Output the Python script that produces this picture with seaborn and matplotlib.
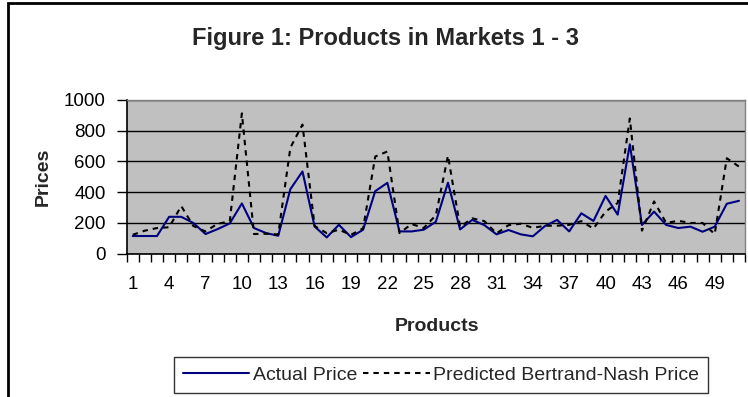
import numpy as np
import pandas as pd
import seaborn as sns
import matplotlib
matplotlib.use("Agg")
import matplotlib.pyplot as plt
from matplotlib.lines import Line2D
from matplotlib.patches import Rectangle

products = list(range(1, 52))
actual_price = [115, 115, 115, 240, 240, 200, 128, 160, 197, 327,
                167, 134, 117, 420, 535, 177, 106, 188, 108, 156,
                407, 461, 145, 145, 156, 208, 462, 158, 220, 186,
                126, 154, 126, 113, 180, 220, 145, 263, 213, 376,
                254, 712, 187, 274, 187, 167, 176, 143, 176, 325, 344]
predicted_price = [123, 150, 167, 172, 310, 180, 145, 195, 210, 913,
                   128, 130, 125, 690, 840, 180, 134, 156, 123, 165,
                   632, 665, 134, 193, 167, 250, 638, 175, 230, 212,
                   132, 186, 195, 168, 182, 182, 188, 212, 163, 274,
                   330, 880, 150, 340, 200, 214, 200, 200, 128, 621, 567]
series_names = ["Actual Price", "Predicted Bertrand-Nash Price"]
x_tick_labels = [str(v) for v in range(1, 52, 3)]
y_ticks = [0, 200, 400, 600, 800, 1000]
title = "Figure 1: Products in Markets 1 - 3"

df = pd.DataFrame({
    "Products": products * 2,
    "Prices": actual_price + predicted_price,
    "Series": [series_names[0]] * len(products) + [series_names[1]] * len(products),
})

sns.set_theme(style="white")
plt.rcParams["font.family"] = ["Liberation Sans", "DejaVu Sans"]

W, H = 748, 397
fig = plt.figure(figsize=(W / 100, H / 100), dpi=100)
fig.patch.set_facecolor("white")

left, right, top, bottom = 126.7, 745, 100, 253.7
ax = fig.add_axes([left / W, 1 - bottom / H, (right - left) / W, (bottom - top) / H])
ax.set_facecolor("#C0C0C0")

DASH = (2.6, 2.4)
sns.lineplot(data=df, x="Products", y="Prices", hue="Series", style="Series",
             palette={series_names[0]: "#000080", series_names[1]: "black"},
             dashes={series_names[0]: "", series_names[1]: DASH},
             linewidth=1.5, ax=ax, legend=False)

ax.set_xlim(0.5, 51.5)
ax.set_ylim(0, 1000)
ax.set_yticks(y_ticks)
ax.set_yticklabels([str(v) for v in y_ticks], fontsize=13.5, color="black")
ax.set_xticks(list(range(1, 52, 3)))
ax.set_xticklabels(x_tick_labels, fontsize=13.5, color="black")
ax.set_xticks(np.arange(0.5, 52, 1), minor=True)
ax.tick_params(axis="x", which="major", length=0, pad=16)
ax.tick_params(axis="x", which="minor", length=6, width=1, color="black", direction="out", bottom=True)
ax.tick_params(axis="y", which="major", length=7, width=1, color="black", direction="out", left=True, pad=8)
ax.yaxis.grid(True, color="black", linewidth=1)
ax.xaxis.grid(False)
ax.set_axisbelow(True)
for s in ["left", "bottom"]:
    ax.spines[s].set_color("black")
    ax.spines[s].set_linewidth(1.2)
for s in ["top", "right"]:
    ax.spines[s].set_color("#808080")
    ax.spines[s].set_linewidth(1)
ax.set_xlabel("")
ax.set_ylabel("")

fig.text(386 / W, 1 - 45 / H, title, ha="center", va="baseline", fontsize=17, fontweight="bold")
fig.text(437 / W, 1 - 331 / H, "Products", ha="center", va="baseline", fontsize=14, fontweight="bold")
fig.text(43 / W, 1 - 177 / H, "Prices", ha="center", va="center", rotation=90, fontsize=14, fontweight="bold")

# chart border (cut at right/bottom)
fig.add_artist(Rectangle((8 / W, -0.2), 2.0, 1.2 - 2.5 / H, transform=fig.transFigure,
                         fill=False, edgecolor="black", linewidth=2))

handles = [Line2D([0], [0], color="#000080", lw=1.5),
           Line2D([0], [0], color="black", lw=1.5, dashes=DASH)]
leg = fig.legend(handles, series_names, loc="center", bbox_to_anchor=(441 / W, 1 - 375 / H),
                 ncol=2, frameon=True, fancybox=False, fontsize=14, handlelength=3.4,
                 handletextpad=0.2, columnspacing=0.33, borderpad=0.45, borderaxespad=0)
leg.get_frame().set_edgecolor("black")
leg.get_frame().set_linewidth(1)

fig.savefig("out.png", dpi=100, facecolor="white")
